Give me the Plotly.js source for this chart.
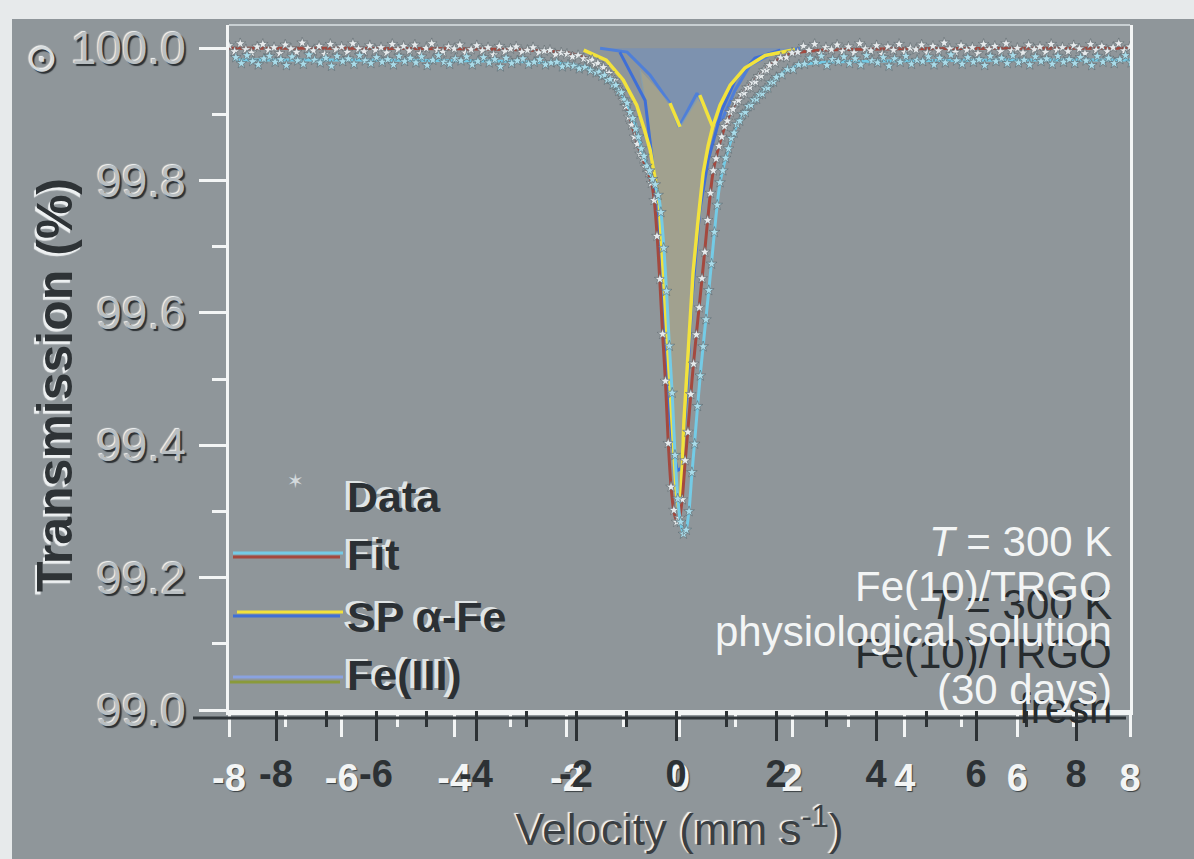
<!DOCTYPE html>
<html>
<head>
<meta charset="utf-8">
<script src="https://cdn.plot.ly/plotly-3.0.1.min.js"></script>
<style>
  html, body { margin: 0; padding: 0; background: #8f969a; }
  #chart { width: 1194px; height: 859px; }
</style>
</head>
<body>
<div id="chart"></div>
<script>
// Mössbauer spectrum, Fe(10)/TRGO at 300 K

// measured transmission: velocity (mm/s) and transmission (%)
const dataV = [
  -8.0,-7.9,-7.8,-7.7,-7.6,-7.5,-7.4,-7.3,-7.2,-7.1,
  -7.0,-6.9,-6.8,-6.7,-6.6,-6.5,-6.4,-6.3,-6.2,-6.1,
  -6.0,-5.9,-5.8,-5.7,-5.6,-5.5,-5.4,-5.3,-5.2,-5.1,
  -5.0,-4.9,-4.8,-4.7,-4.6,-4.5,-4.4,-4.3,-4.2,-4.1,
  -4.0,-3.9,-3.8,-3.7,-3.6,-3.5,-3.4,-3.3,-3.2,-3.1,
  -3.0,-2.9,-2.8,-2.7,-2.6,-2.5,-2.4,-2.3,-2.2,-2.1,
  -2.0,-1.9,-1.8,-1.7,-1.6,
  -1.55,-1.50,-1.45,-1.40,-1.35,-1.30,-1.25,-1.20,-1.15,-1.10,
  -1.05,-1.00,-0.95,-0.90,-0.85,-0.80,-0.75,-0.70,-0.65,-0.60,
  -0.55,-0.50,-0.45,-0.40,-0.35,-0.30,-0.25,-0.20,-0.15,-0.10,
  -0.05,0.00,0.05,0.10,0.15,0.20,0.25,0.30,0.35,0.40,
  0.45,0.50,0.55,0.60,0.65,0.70,0.75,0.80,0.85,0.90,
  0.95,1.00,1.05,1.10,1.15,1.20,1.25,1.30,1.35,1.40,
  1.45,1.50,1.55,
  1.6,1.7,1.8,1.9,2.0,
  2.1,2.2,2.3,2.4,2.5,2.6,2.7,2.8,2.9,3.0,
  3.1,3.2,3.3,3.4,3.5,3.6,3.7,3.8,3.9,4.0,
  4.1,4.2,4.3,4.4,4.5,4.6,4.7,4.8,4.9,5.0,
  5.1,5.2,5.3,5.4,5.5,5.6,5.7,5.8,5.9,6.0,
  6.1,6.2,6.3,6.4,6.5,6.6,6.7,6.8,6.9,7.0,
  7.1,7.2,7.3,7.4,7.5,7.6,7.7,7.8,7.9,8.0
];
const dataT = [
  100.004,99.995,100.007,99.998,99.993,100.002,100.006,99.997,100.001,99.992,
  100.005,99.999,99.994,100.008,100.000,99.996,100.003,99.991,100.006,99.998,
  100.002,99.994,100.007,99.999,99.995,100.004,99.997,100.001,99.993,100.006,
  99.998,100.003,99.996,100.005,99.992,100.000,100.007,99.997,99.994,100.002,
  99.999,100.005,99.993,99.998,100.004,99.996,100.001,99.990,100.003,99.995,
  99.999,100.002,99.994,99.997,100.001,99.993,99.996,99.997,99.990,99.993,
  99.991,99.987,99.989,99.984,99.981,
  99.982,99.976,99.977,99.970,99.971,99.963,99.962,99.953,99.951,99.940,
  99.935,99.921,99.912,99.896,99.884,99.866,99.855,99.840,99.833,99.820,
  99.812,99.796,99.770,99.716,99.651,99.568,99.497,99.403,99.337,99.302,
  99.284,99.290,99.318,99.377,99.420,99.477,99.523,99.567,99.608,99.652,
  99.692,99.740,99.781,99.815,99.833,99.852,99.866,99.882,99.890,99.903,
  99.908,99.918,99.921,99.930,99.932,99.940,99.941,99.948,99.949,99.957,
  99.958,99.966,99.967,
  99.974,99.978,99.986,99.986,99.993,
  99.994,100.003,99.997,100.006,99.992,100.001,99.998,100.005,99.995,100.002,
  99.993,100.007,99.999,99.996,100.004,99.991,100.002,99.997,100.006,99.994,
  100.000,99.998,100.005,99.993,100.003,99.996,100.008,99.999,99.994,100.004,
  99.997,100.001,99.992,100.006,99.998,100.003,99.995,100.007,99.996,100.000,
  99.993,100.005,99.998,100.002,99.994,100.006,99.997,100.001,99.995,100.004,
  99.999,99.992,100.006,99.997,100.003,99.995,100.001,100.007,99.996,100.002
];

// total fit
const fitV = [-8,-6,-4,-3,-2.5,-2,-1.8,-1.6,-1.4,-1.2,
  -1.0,-0.9,-0.8,-0.7,-0.6,-0.5,-0.45,-0.4,-0.35,-0.3,
  -0.25,-0.2,-0.15,-0.1,-0.05,0,0.05,0.1,0.15,0.2,
  0.25,0.3,0.35,0.4,0.45,0.5,0.55,0.6,0.7,0.8,
  0.9,1.0,1.2,1.4,1.6,1.8,2.0,2.5,3,4,6,8];
const fitT = [100.0,100.0,99.999,99.998,99.996,99.993,99.989,99.983,99.972,99.955,
  99.925,99.902,99.870,99.843,99.821,99.798,99.771,99.720,99.650,99.568,
  99.497,99.405,99.338,99.300,99.286,99.291,99.320,99.375,99.424,99.476,
  99.525,99.568,99.610,99.652,99.695,99.740,99.782,99.815,99.852,99.880,
  99.902,99.918,99.940,99.957,99.974,99.985,99.992,99.997,99.998,99.999,100.0,100.0];

// superparamagnetic alpha-Fe component (yellow), with the doublet tips
const spYellowV = [-1.70,-1.30,-1.00,-0.76,-0.62,-0.52,-0.42,-0.36,-0.28,-0.20,-0.13,-0.06,-0.01,
  0.03,0.08,0.13,0.19,0.24,0.33,0.42,0.51,0.59,0.72,0.90,1.16,1.52,2.05,
  null,-0.17,0.01,null,0.36,0.59];
const spYellowT = [99.997,99.982,99.952,99.914,99.876,99.846,99.796,99.763,99.649,99.529,99.423,99.332,99.302,
  99.332,99.438,99.509,99.589,99.660,99.740,99.811,99.853,99.881,99.914,99.944,99.970,99.989,99.998,
  null,99.917,99.881,null,99.929,99.881];

// superparamagnetic alpha-Fe component (blue)
const spBlueV = [-1.06,-0.61,-0.44,-0.35,-0.28,-0.20,-0.12,-0.04,0.03,0.12,0.22,0.36,0.51,0.75,0.99,1.34,1.79];
const spBlueT = [99.994,99.921,99.800,99.699,99.574,99.468,99.397,99.362,99.365,99.468,99.619,99.755,99.831,99.906,99.952,99.985,99.997];

// Fe(III) doublet (blue area)
const fe3V = [-1.41,-0.93,-0.52,-0.17,-0.01,0.15,0.31,0.45,0.59,0.77,0.99,1.25,1.66,2.14];
const fe3T = [100.0,99.994,99.959,99.917,99.881,99.906,99.932,99.909,99.884,99.894,99.937,99.974,99.992,100.0];

// Fe(III) area (tan), outline of the shaded region
const fe3TanV = [-0.70,-0.56,-0.44,-0.35,-0.29,-0.26,-0.17,-0.04,0.01,0.08,0.13,0.19,0.24,0.33,0.42,0.54,0.59,0.36,0.01,-0.17];
const fe3TanT = [99.967,99.891,99.816,99.710,99.604,99.509,99.408,99.306,99.317,99.438,99.509,99.589,99.660,99.740,99.811,99.853,99.881,99.929,99.881,99.917];

// axis ticks
const xTicks = [-8,-6,-4,-2,0,2,4,6,8];
const xTickText = ['-8','-6','-4','-2','0','2','4','6','8'];
const xMinor = [-7,-5,-3,-1,1,3,5,7];
const yTicks = [99.0,99.2,99.4,99.6,99.8,100.0];
const yTickText = ['99.0','99.2','99.4','99.6','99.8','100.0'];
const yMinor = [99.1,99.3,99.5,99.7,99.9];

// panel labels
const legendLabels = ['Data','Fit','SP α-Fe','Fe(III)'];
const noteLines = ['<i>T</i> = 300 K','Fe(10)/TRGO','physiological solution','(30 days)'];
const noteLinesFresh = ['<i>T</i> = 300 K','Fe(10)/TRGO','fresh'];

const BG = '#8f969a';
const WHITE = '#f3f5f5';
const DARK = '#2b3034';
const FONT = 'Arial, "Liberation Sans", sans-serif';
const EMBOSS = '2px 2px 1px #2c3135, -1px -1px 1px #f5f7f7';

const traces = [
  { type:'scatter', mode:'lines', x:fe3V, y:fe3T, fill:'toself',
    fillcolor:'rgba(92,138,216,0.34)', line:{color:'#4f7fd8', width:3}, showlegend:false, hoverinfo:'skip' },
  { type:'scatter', mode:'lines', x:fe3TanV, y:fe3TanT, fill:'toself',
    fillcolor:'rgba(206,190,118,0.30)', line:{color:'rgba(130,160,180,0.7)', width:1.5}, showlegend:false, hoverinfo:'skip' },
  { type:'scatter', mode:'lines', x:spBlueV, y:spBlueT,
    line:{color:'#3f6fd6', width:3}, showlegend:false },
  { type:'scatter', mode:'lines', x:spYellowV, y:spYellowT, connectgaps:false,
    line:{color:'#f2e23c', width:3.5}, showlegend:false },
  { type:'scatter', mode:'lines', x:fitV, y:fitT, xaxis:'x3', yaxis:'y2',
    line:{color:'#74cbe6', width:3, shape:'spline', smoothing:0.6}, showlegend:false },
  { type:'scatter', mode:'lines', x:fitV, y:fitT,
    line:{color:'#a4493f', width:3, shape:'spline', smoothing:0.6}, showlegend:false },
  { type:'scatter', mode:'markers', x:dataV, y:dataT, xaxis:'x3', yaxis:'y2',
    marker:{symbol:'star', size:8, color:'#a9dcea', line:{color:'#5b6469', width:0.6}}, showlegend:false },
  { type:'scatter', mode:'markers', x:dataV, y:dataT,
    marker:{symbol:'star', size:8, color:'#e6eaec', line:{color:'#5b6469', width:0.6}}, showlegend:false },
  // carrier for the second velocity scale
  { type:'scatter', mode:'markers', x:[0], y:[99.5], xaxis:'x2', yaxis:'y',
    marker:{opacity:0}, showlegend:false, hoverinfo:'skip' }
];

// paper-coordinate helpers for the 229..1130 x 25..710 plot box
const px = v => (v - 229) / 901;
const py = v => (710 - v) / 685;

const annotations = [];
// dark lettering of the fresh-sample panel
noteLinesFresh.forEach((t, i) => {
  annotations.push({ xref:'paper', yref:'paper', x:px(1114), y:py([604,653,708][i]),
    xanchor:'right', yanchor:'middle', showarrow:false, text:t,
    font:{family:FONT, size:42, color:'#262b2e'} });
});
noteLines.forEach((t, i) => {
  annotations.push({ xref:'paper', yref:'paper', x:px(1114), y:py([541,586,631,689][i]),
    xanchor:'right', yanchor:'middle', showarrow:false, text:t,
    font:{family:FONT, size:42, color:WHITE} });
});
// legend
legendLabels.forEach((t, i) => {
  annotations.push({ xref:'paper', yref:'paper', x:px(345), y:py([497,555,617,675][i]),
    xanchor:'left', yanchor:'middle', showarrow:false, text:t,
    font:{family:FONT, size:43, weight:700, color:DARK, shadow:'-4px -2px 0px rgba(240,244,245,0.85)'} });
});
annotations.push({ xref:'paper', yref:'paper', x:px(285), y:py(495), showarrow:false,
  text:'✶', font:{family:'DejaVu Sans', size:20, color:'#d3d9dc'} });
annotations.push({ xref:'paper', yref:'paper', x:px(24), y:py(34), showarrow:false,
  text:'⊙', font:{family:'DejaVu Sans', size:38, color:'#d6dbdd', shadow:EMBOSS} });
// vertical axis title
annotations.push({ xref:'paper', yref:'paper', x:px(55), y:py(385), textangle:-90,
  xanchor:'center', yanchor:'middle', showarrow:false, text:'Transmission (%)',
  font:{family:FONT, size:50, weight:700, color:'#2e3336', shadow:'-3px -2px 1px #eef1f2'} });

const legLine = (x0, x1, y, color) => ({ type:'line', xref:'paper', yref:'paper',
  x0:px(x0), x1:px(x1), y0:py(y), y1:py(y), line:{color:color, width:3} });

const shapes = [
  // page edge
  { type:'rect', xref:'paper', yref:'paper', x0:-0.3, x1:1.1, y0:py(19), y1:1.2, line:{width:0}, fillcolor:'#e7eaeb' },
  { type:'rect', xref:'paper', yref:'paper', x0:-0.3, x1:px(12), y0:-0.3, y1:1.2, line:{width:0}, fillcolor:'#e7eaeb' },
  // top frame
  { type:'line', xref:'paper', yref:'paper', x0:0, x1:1, y0:1, y1:1, line:{color:'#c8cfd2', width:2} },
  // shadow under the velocity axis
  { type:'line', xref:'paper', yref:'paper', x0:px(193), x1:px(1126), y0:py(718), y1:py(718), line:{color:'#30363a', width:3} },
  legLine(233, 343, 553, '#74cbe6'),
  legLine(233, 340, 557, '#a4493f'),
  legLine(237, 343, 612, '#f2e23c'),
  legLine(233, 340, 616, '#3f6fd6'),
  legLine(233, 343, 677, '#8aa2e0'),
  legLine(230, 340, 682, '#8a9a3a')
];

const layout = {
  width:1194, height:859,
  margin:{l:229, r:64, t:25, b:149},
  paper_bgcolor:BG, plot_bgcolor:BG,
  showlegend:false,
  font:{family:FONT},
  xaxis:{
    range:[-8, 8], showgrid:false, zeroline:false,
    showline:true, linecolor:WHITE, linewidth:5,
    tickmode:'array', tickvals:xTicks, ticktext:xTickText,
    ticks:'outside', ticklen:22, tickwidth:3, tickcolor:WHITE,
    ticklabelstandoff:8,
    tickfont:{family:FONT, size:38, weight:700, color:WHITE, shadow:'1px 1px 1px #3a4043'},
    minor:{tickvals:xMinor, ticks:'outside', ticklen:12, tickwidth:3, tickcolor:WHITE},
    title:{text:'Velocity (mm s<sup>-1</sup>)', standoff:8,
      font:{family:FONT, size:44, color:'#3a3f43', shadow:'-2px -1px 1px #f2f4f5'}}
  },
  xaxis2:{
    overlaying:'x', anchor:'y', side:'bottom',
    range:[-8.94, 9.08], showgrid:false, zeroline:false, showline:false,
    tickmode:'array', tickvals:xTicks, ticktext:xTickText,
    ticks:'outside', ticklen:30, tickwidth:3, tickcolor:'#2c3134',
    ticklabelstandoff:0,
    tickfont:{family:FONT, size:38, weight:700, color:'#2c3134'},
    minor:{tickvals:xMinor, ticks:'outside', ticklen:16, tickwidth:3, tickcolor:'#2c3134'}
  },
  xaxis3:{ overlaying:'x', range:[-8.12, 7.88], visible:false },
  yaxis:{
    range:[99.0, 100.035], showgrid:false, zeroline:false,
    showline:true, linecolor:WHITE, linewidth:3, mirror:true,
    tickmode:'array', tickvals:yTicks, ticktext:yTickText,
    ticks:'outside', ticklen:27, tickwidth:3, tickcolor:WHITE,
    ticklabelstandoff:4,
    tickfont:{family:FONT, size:46, color:'#b9bfc2', shadow:EMBOSS},
    minor:{tickvals:yMinor, ticks:'outside', ticklen:14, tickwidth:3, tickcolor:WHITE}
  },
  yaxis2:{ overlaying:'y', range:[99.018, 100.053], visible:false },
  annotations:annotations,
  shapes:shapes
};

Plotly.newPlot('chart', traces, layout, {displayModeBar:false, staticPlot:true});
</script>
</body>
</html>
